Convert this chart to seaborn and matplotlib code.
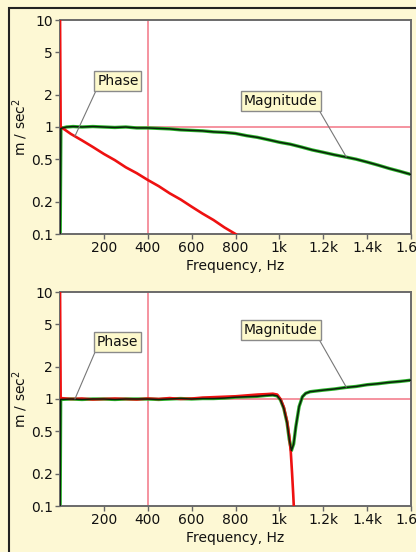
import matplotlib
matplotlib.use("Agg")
import matplotlib.pyplot as plt
import matplotlib.ticker as mticker
from matplotlib.patches import Rectangle
import seaborn as sns

# Top panel: frequency response (unpinned)
freq_top_mag = [0, 4, 30, 60, 100, 150, 200, 250, 300, 350, 400, 450, 500, 550, 600, 650, 700,
                750, 800, 850, 900, 950, 1000, 1050, 1100, 1150, 1200, 1250, 1300, 1350,
                1400, 1450, 1500, 1550, 1600]
mag_top = [0.05, 0.97, 1.0, 1.01, 1.0, 1.01, 1.0, 0.99, 1.0, 0.98, 0.98, 0.97, 0.96, 0.94, 0.93,
           0.92, 0.9, 0.89, 0.87, 0.83, 0.8, 0.76, 0.72, 0.69, 0.65, 0.61, 0.58, 0.55, 0.525,
           0.5, 0.47, 0.44, 0.41, 0.385, 0.36]
freq_top_phase = [0, 3, 20, 50, 100, 150, 200, 250, 300, 350, 400, 450, 500, 550, 600, 650,
                  700, 750, 800, 820]
phase_top = [12, 1.0, 0.95, 0.86, 0.75, 0.65, 0.56, 0.49, 0.42, 0.37, 0.32, 0.28, 0.24, 0.21,
             0.18, 0.155, 0.135, 0.115, 0.1, 0.093]

# Bottom panel: frequency response (pinned), resonance dip near 1.05 kHz
freq_bot_mag = [0, 3, 50, 100, 150, 200, 250, 300, 350, 400, 450, 500, 550, 600, 650, 700,
                750, 800, 850, 900, 940, 970, 990, 1005, 1020, 1035, 1045, 1055, 1065, 1075,
                1090, 1105, 1120, 1140, 1170, 1200, 1250, 1300, 1350, 1400, 1450, 1500,
                1550, 1600]
mag_bot = [0.05, 0.99, 1.0, 0.99, 1.0, 1.0, 0.99, 1.0, 1.0, 1.0, 0.99, 1.0, 1.01, 1.0, 1.01,
           1.01, 1.02, 1.04, 1.05, 1.06, 1.08, 1.09, 1.07, 0.98, 0.82, 0.6, 0.42, 0.33, 0.38,
           0.55, 0.85, 1.05, 1.13, 1.17, 1.19, 1.21, 1.24, 1.28, 1.31, 1.36, 1.39, 1.43,
           1.46, 1.5]
freq_bot_phase = [0, 3, 50, 100, 150, 200, 250, 300, 350, 400, 450, 500, 550, 600, 650, 700,
                  750, 800, 850, 900, 940, 970, 990, 1005, 1020, 1035, 1045, 1052, 1058,
                  1063, 1068]
phase_bot = [12, 1.02, 1.0, 1.01, 0.99, 1.0, 1.01, 1.0, 0.99, 1.01, 1.0, 1.02, 1.0, 1.01, 1.03,
             1.04, 1.05, 1.06, 1.08, 1.1, 1.11, 1.12, 1.1, 1.0, 0.84, 0.62, 0.45, 0.32, 0.2,
             0.13, 0.08]

x_ticks = [200, 400, 600, 800, 1000, 1200, 1400, 1600]
x_tick_labels = ["200", "400", "600", "800", "1k", "1.2k", "1.4k", "1.6k"]
y_ticks = [0.1, 0.2, 0.5, 1, 2, 5, 10]
y_tick_labels = ["0.1", "0.2", "0.5", "1", "2", "5", "10"]

sns.set_theme(style="white")
plt.rcParams['font.family'] = ['DejaVu Sans']

bg = '#fdf8d4'
fig = plt.figure(figsize=(4.16, 5.52), dpi=100, facecolor=bg)
fig.patches.append(Rectangle((9 / 416, -0.1), 1.2, 1.1 - 8 / 552, transform=fig.transFigure,
                             fill=False, edgecolor='#222222', linewidth=1.5))

ax_top = fig.add_axes([60 / 416, 1 - 234 / 552, 351 / 416, 214 / 552])
ax_bot = fig.add_axes([60 / 416, 1 - 506 / 552, 351 / 416, 214 / 552])


def dibujar_panel(ax, f_mag, mag, f_ph, ph, fase_pos, mag_pos, fase_obj, mag_obj):
    ax.set_facecolor('white')
    ax.set_yscale('log')
    ax.set_xlim(0, 1600)
    ax.set_ylim(0.1, 10)

    # Lineas de referencia
    ax.axvline(400, color='#f27585', lw=1.1, zorder=1)
    ax.axhline(1, color='#f27585', lw=1.1, zorder=1)

    sns.lineplot(x=f_mag, y=mag, ax=ax, color='#2bb52b', lw=2.4, sort=False,
                 estimator=None, zorder=2)
    sns.lineplot(x=f_ph, y=ph, ax=ax, color='#ee1111', lw=1.9, sort=False,
                 estimator=None, zorder=3)
    sns.lineplot(x=f_mag, y=mag, ax=ax, color='#0a200a', lw=1.1, sort=False,
                 estimator=None, zorder=4)

    ax.set_xticks(x_ticks)
    ax.set_xticklabels(x_tick_labels)
    ax.set_yticks(y_ticks)
    ax.set_yticklabels(y_tick_labels)
    ax.yaxis.set_minor_locator(mticker.NullLocator())
    ax.tick_params(axis='both', which='major', length=3.5, width=1, color='#666666',
                   labelsize=10, pad=1.5, direction='out', left=True, bottom=True,
                   labelcolor='#111111')
    ax.set_xlabel("Frequency, Hz", fontsize=10, labelpad=3, color='#111111')
    ax.set_ylabel("m / sec$^2$", fontsize=10, labelpad=0.5, color='#111111')
    for s in ax.spines.values():
        s.set_color('#6a6a6a')
        s.set_linewidth(1.4)

    caja = dict(boxstyle='square,pad=0.2', fc='#fdf9cc', ec='#8a8a8a', lw=1)
    ax.annotate("Phase", xy=fase_obj, xytext=fase_pos, fontsize=10, ha='center', va='center',
                bbox=caja, zorder=6, color='#111111',
                arrowprops=dict(arrowstyle='-', color='#777777', lw=0.8, relpos=(0, 0),
                                shrinkA=0, shrinkB=0))
    ax.annotate("Magnitude", xy=mag_obj, xytext=mag_pos, fontsize=10, ha='center',
                va='center', bbox=caja, zorder=6, color='#111111',
                arrowprops=dict(arrowstyle='-', color='#777777', lw=0.8, relpos=(1, 0),
                                shrinkA=0, shrinkB=0))


dibujar_panel(ax_top, freq_top_mag, mag_top, freq_top_phase, phase_top,
              (264, 2.69), (1007, 1.75), (68, 0.82), (1305, 0.525))
dibujar_panel(ax_bot, freq_bot_mag, mag_bot, freq_bot_phase, phase_bot,
              (260, 3.41), (1007, 4.4), (68, 1.0), (1305, 1.29))

fig.savefig("out.png", dpi=100, facecolor=bg)
